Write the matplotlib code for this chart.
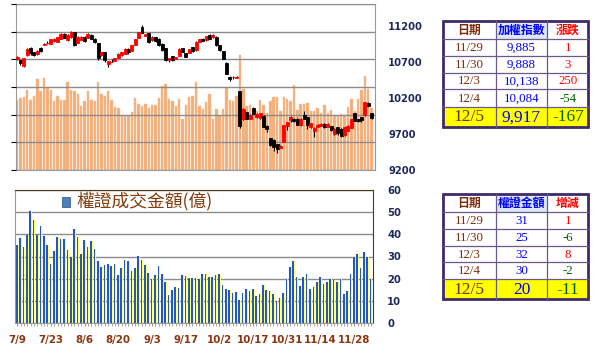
import numpy as np
import matplotlib.pyplot as plt
from matplotlib.patches import Rectangle

plt.rcParams['font.family'] = ['DejaVu Sans', 'Noto Sans CJK TC']

# ---- data ----
tick_labels = ['7/9', '7/23', '8/6', '8/20', '9/3', '9/17', '10/2', '10/17', '10/31', '11/14', '11/28']

opens = [10733, 10718, 10640, 10790, 10890, 10834, 10805, 10890, 10935, 10960,
         10950, 10985, 10975, 11020, 11090, 10995, 11040, 11110, 10965, 11000,
         11045, 11030, 11075, 11020, 10960, 10788, 10834, 10672, 10700, 10710,
         10750, 10790, 10810, 10880, 10850, 10935, 11030, 11180, 11060, 11100,
         11000, 11040, 11020, 10950, 10890, 10718, 10775, 10741, 10780, 10890,
         10820, 10825, 10900, 10857, 10975, 11020, 10996, 11075, 11040, 11042,
         10927, 10843, 10686, 10495, 10485, 10478, 10288, 9900, 10001, 9908,
         10056, 9930, 9920, 9954, 9815, 9640, 9620, 9560, 9510, 9593,
         9815, 9895, 9910, 9908, 9820, 9960, 9931, 9790, 9735, 9800,
         9810, 9840, 9800, 9810, 9700, 9790, 9769, 9680, 9747, 9780,
         9985, 9900, 9935, 9960, 10125, 9985]
closes = [10765, 10680, 10750, 10880, 10815, 10790, 10850, 10850, 10940, 10965,
          11010, 11020, 11040, 11090, 11030, 11075, 11110, 10925, 11045, 11045,
          10985, 11090, 11020, 10975, 10750, 10834, 10718, 10705, 10702, 10750,
          10810, 10834, 10880, 10840, 10930, 11010, 11110, 11100, 11085, 10975,
          11045, 10985, 10927, 10857, 10718, 10745, 10718, 10760, 10880, 10834,
          10765, 10870, 10845, 10980, 11010, 10990, 11055, 11020, 11075, 10927,
          10857, 10741, 10533, 10460, 10490, 10492, 9806, 10045, 9908, 9960,
          9978, 9980, 9985, 9800, 9769, 9540, 9515, 9490, 9530, 9825,
          9860, 9940, 9880, 9830, 9910, 9910, 9827, 9850, 9780, 9830,
          9840, 9790, 9840, 9750, 9770, 9716, 9667, 9790, 9815, 9906,
          9884, 9885, 9888, 10138, 10084, 9917]
highs = [10780, 10725, 10755, 10885, 10900, 10840, 10860, 10900, 10965, 10985,
         11015, 11025, 11045, 11095, 11100, 11080, 11120, 11115, 11050, 11050,
         11050, 11095, 11080, 11025, 10965, 10840, 10840, 10710, 10735, 10755,
         10815, 10840, 10885, 10890, 10935, 11015, 11115, 11205, 11090, 11105,
         11050, 11045, 11025, 10955, 10895, 10750, 10780, 10765, 10885, 10895,
         10825, 10875, 10905, 10985, 11015, 11025, 11060, 11080, 11080, 11050,
         10930, 10850, 10690, 10500, 10500, 10500, 10290, 10060, 10005, 9970,
         10070, 9985, 9990, 9960, 9820, 9650, 9625, 9565, 9540, 9830,
         9870, 9950, 9920, 9915, 9920, 10020, 9935, 9855, 9790, 9835,
         9845, 9845, 9845, 9815, 9775, 9795, 9775, 9795, 9820, 9910,
         9990, 9910, 9940, 10145, 10140, 9990]
lows = [10720, 10650, 10630, 10785, 10800, 10780, 10800, 10840, 10925, 10945,
        10945, 10980, 10970, 11015, 11025, 10990, 11035, 10920, 10960, 10995,
        10980, 11025, 11015, 10965, 10720, 10780, 10700, 10630, 10690, 10705,
        10745, 10785, 10805, 10810, 10845, 10930, 11025, 11095, 11055, 10965,
        10990, 10980, 10920, 10850, 10710, 10690, 10710, 10735, 10775, 10830,
        10760, 10820, 10840, 10850, 10970, 10985, 10990, 11015, 11035, 10920,
        10850, 10735, 10525, 10430, 10460, 10470, 9780, 9890, 9900, 9900,
        9970, 9920, 9900, 9790, 9720, 9530, 9470, 9440, 9500, 9590,
        9760, 9860, 9870, 9820, 9810, 9900, 9770, 9785, 9660, 9790,
        9805, 9785, 9795, 9745, 9690, 9680, 9660, 9675, 9740, 9775,
        9880, 9860, 9870, 9955, 10070, 9900]
volume = [1270, 1300, 1320, 1440, 1260, 1340, 1645, 1435, 1665, 1480,
          1440, 1240, 1340, 1260, 1260, 1585, 1450, 1420, 1380, 1160,
          1240, 1420, 1260, 1240, 1585, 1380, 1340, 1420, 1270, 1140,
          1120, 1000, 980, 970, 1050, 1295, 1200, 1150, 1200, 1120,
          1180, 1180, 1300, 1525, 1560, 1290, 1240, 1150, 1283, 920,
          1180, 1319, 1343, 1585, 1150, 1101, 1222, 1380, 920, 1101,
          998, 1101, 1500, 1258, 1240, 1330, 2087, 1464, 1150, 1180,
          1029, 1059, 1258, 1180, 1029, 1240, 1319, 1319, 1059, 1319,
          1289, 1252, 1531, 1089, 1192, 1192, 1210, 1059, 1059, 1119,
          1029, 1180, 1029, 1089, 986, 968, 1010, 998, 1137, 1289,
          1059, 1280, 1440, 1706, 1470, 1120]
warrant = [35.1, 38.5, 34.2, 39.7, 50.5, 46.5, 39.7, 43.7, 39.4, 35.4,
           26.7, 32.4, 38.6, 37.9, 37.9, 32.9, 29.9, 42.4, 38.9, 31.1,
           37.4, 34.4, 37.0, 33.6, 27.9, 25.3, 26.1, 26.8, 25.6, 26.8,
           21.6, 24.9, 28.4, 27.9, 23.4, 24.9, 30.2, 28.4, 26.1, 22.6,
           19.8, 21.6, 25.6, 22.3, 18.6, 12.8, 15.1, 16.3, 16.0, 21.6,
           21.2, 20.1, 20.1, 20.1, 19.7, 22.3, 22.3, 20.9, 20.9, 21.6,
           21.9, 17.2, 15.2, 14.9, 13.7, 14.0, 10.4, 13.4, 15.2, 14.4,
           15.2, 12.3, 13.2, 17.2, 14.9, 14.4, 13.2, 10.1, 11.2, 13.7,
           19.7, 25.3, 27.9, 20.6, 16.9, 20.6, 22.3, 15.3, 16.4, 18.7,
           20.9, 17.5, 18.7, 19.7, 19.4, 18.7, 19.7, 13.2, 14.4, 22.1,
           30, 31, 25, 32, 30, 20]

tbl_dates = ['11/29', '11/30', '12/3', '12/4', '12/5']
tbl_index = ['9,885', '9,888', '10,138', '10,084', '9,917']
tbl_index_chg = [1, 3, 250, -54, -167]
tbl_warrant = [31, 25, 32, 30, 20]
tbl_warrant_chg = [1, -6, 8, -2, -11]

W, H = 600, 354
NAVY = '#1F2A5C'
BROWN = '#8B3510'
GRID = '#8c8c8c'

fig = plt.figure(figsize=(6, 3.54), dpi=100)


def box(l, t, r, b):
    return [l / W, 1 - b / H, (r - l) / W, (b - t) / H]


x = np.arange(len(closes))

# ---- top chart: volume bars + candles ----
ax_v = fig.add_axes(box(15.7, 4, 375, 170))
ax_v.bar(x, volume, width=0.72, color='#F3AE78', edgecolor='#F7C59C', linewidth=0.3)
ax_v.set_ylim(0, 3000)
ax_v.set_yticks(range(0, 3001, 500))
ax_v.set_axisbelow(False)
ax_v.grid(axis='y', color=GRID, lw=1.0)
ax_v.tick_params(left=False, labelleft=False, bottom=False, labelbottom=False)
for s in ax_v.spines.values():
    s.set_color('#999999')

ax_p = ax_v.twinx()
ax_p.set_xlim(-0.4, 106.0)
ax_p.set_ylim(9200, 11500)
ax_p.set_yticks(range(9200, 11201, 500))
ax_p.tick_params(axis='y', length=0, pad=9.5, labelsize=7.2, labelcolor=NAVY)
for lab in ax_p.get_yticklabels():
    lab.set_fontweight('bold')
for s in ax_p.spines.values():
    s.set_visible(False)

o = np.array(opens)
c = np.array(closes)
up = c >= o
ax_p.vlines(x, lows, highs, color='black', lw=0.8, zorder=3)
body_col = np.where(up, '#FF0000', '#000000')
ax_p.bar(x, c - o, bottom=o, width=0.88, color=body_col, edgecolor=body_col,
         linewidth=0.6, zorder=4)

# ---- bottom chart: warrant turnover ----
ax_b = fig.add_axes(box(15.3, 190, 372.7, 323))
ax_b.bar(x + 0.2, warrant, width=0.48, color='#FFFF70', zorder=2)
ax_b.bar(x - 0.1, warrant, width=0.48, color='#2458C0', zorder=3)
ax_b.set_xlim(-0.55, 105.5)
ax_b.set_ylim(0, 60)
ax_b.set_yticks(range(0, 61, 10))
ax_b.grid(axis='y', color=GRID, lw=1.0, zorder=1)
ax_b.set_axisbelow(True)
ax_b.yaxis.tick_right()
ax_b.tick_params(axis='y', length=0, pad=10.3, labelsize=7.2, labelcolor=NAVY)
for lab in ax_b.get_yticklabels():
    lab.set_fontweight('bold')
ax_b.set_xticks(range(0, 101, 10))
ax_b.set_xticklabels(tick_labels, fontsize=7.4, fontweight='bold', color=BROWN)
ax_b.set_xticks(x, minor=True)
ax_b.tick_params(axis='x', which='both', length=2.5, color='#999999', pad=5.8)
ax_b.spines['left'].set_color('#999999')
ax_b.spines['bottom'].set_color('#999999')
ax_b.spines['top'].set_color('#4A3A20')
ax_b.spines['right'].set_color('#4A3A20')

# ---- overlay in pixel coordinates: legend and tables ----
ov = fig.add_axes([0, 0, 1, 1])
ov.set_xlim(0, W)
ov.set_ylim(H, 0)
ov.axis('off')

ov.add_patch(Rectangle((61.7, 196.7), 8.3, 10, facecolor='#4F81BD', edgecolor='#3A5F9A', lw=0.6))
ov.text(76, 201, '權證成交金額(億)', fontsize=12.8, color='#843C0C', va='center', ha='left',
        family=['Noto Sans CJK TC'])

cols = [442.7, 495.7, 547.3, 588.3]
SERIF = ['Liberation Serif', 'Noto Sans CJK TC']


def chg_color(v):
    return '#FF0000' if v > 0 else '#006000'


def draw_table(rows_y, header, head_colors, values, value_colors):
    top, bot = rows_y[0], rows_y[-1]
    ov.add_patch(Rectangle((cols[1], rows_y[0]), cols[2] - cols[1], rows_y[1] - rows_y[0],
                           facecolor='#DCE8F5', edgecolor='none'))
    ov.add_patch(Rectangle((cols[0], rows_y[-2]), cols[-1] - cols[0], rows_y[-1] - rows_y[-2],
                           facecolor='#FFFF00', edgecolor='none'))
    for yy in rows_y[1:-1]:
        ov.plot([cols[0], cols[-1]], [yy, yy], color='#6A5A8A', lw=0.9)
    for xx in cols[1:-1]:
        ov.plot([xx, xx], [top, bot], color='#6A5A8A', lw=0.9)
    ov.add_patch(Rectangle((cols[0], top), cols[-1] - cols[0], bot - top,
                           facecolor='none', edgecolor='#3F2A6A', lw=2.0))
    for j in range(3):
        cx = (cols[j] + cols[j + 1]) / 2
        ov.text(cx, (rows_y[0] + rows_y[1]) / 2 + 0.5, header[j], fontsize=8.6,
                color=head_colors[j], ha='center', va='center', fontweight='bold',
                family=['Noto Sans CJK TC'])
    for i, row in enumerate(values):
        cy = (rows_y[i + 1] + rows_y[i + 2]) / 2 + 0.5
        big = i == len(values) - 1
        for j in range(3):
            cx = (cols[j] + cols[j + 1]) / 2
            ov.text(cx, cy, row[j], fontsize=12.5 if big else 9.3,
                    color=value_colors[i][j], ha='center', va='center', family=SERIF)


rows1 = [20.7, 39, 56, 72.7, 89.3, 106.7, 127]
vals1 = [[d, v, str(ch)] for d, v, ch in zip(tbl_dates, tbl_index, tbl_index_chg)]
cols1 = [['#7B2D0B', '#0000FF', chg_color(ch)] for ch in tbl_index_chg]
draw_table(rows1, ['日期', '加權指數', '漲跌'], ['#7B2D0B', '#0000FF', '#FF0000'], vals1, cols1)

rows2 = [194, 212.3, 229.3, 245.7, 262.3, 278.7, 299.3]
vals2 = [[d, str(v), str(ch)] for d, v, ch in zip(tbl_dates, tbl_warrant, tbl_warrant_chg)]
cols2 = [['#7B2D0B', '#0000FF', chg_color(ch)] for ch in tbl_warrant_chg]
draw_table(rows2, ['日期', '權證金額', '增減'], ['#7B2D0B', '#0000FF', '#FF0000'], vals2, cols2)

fig.savefig('out.png', dpi=100)
